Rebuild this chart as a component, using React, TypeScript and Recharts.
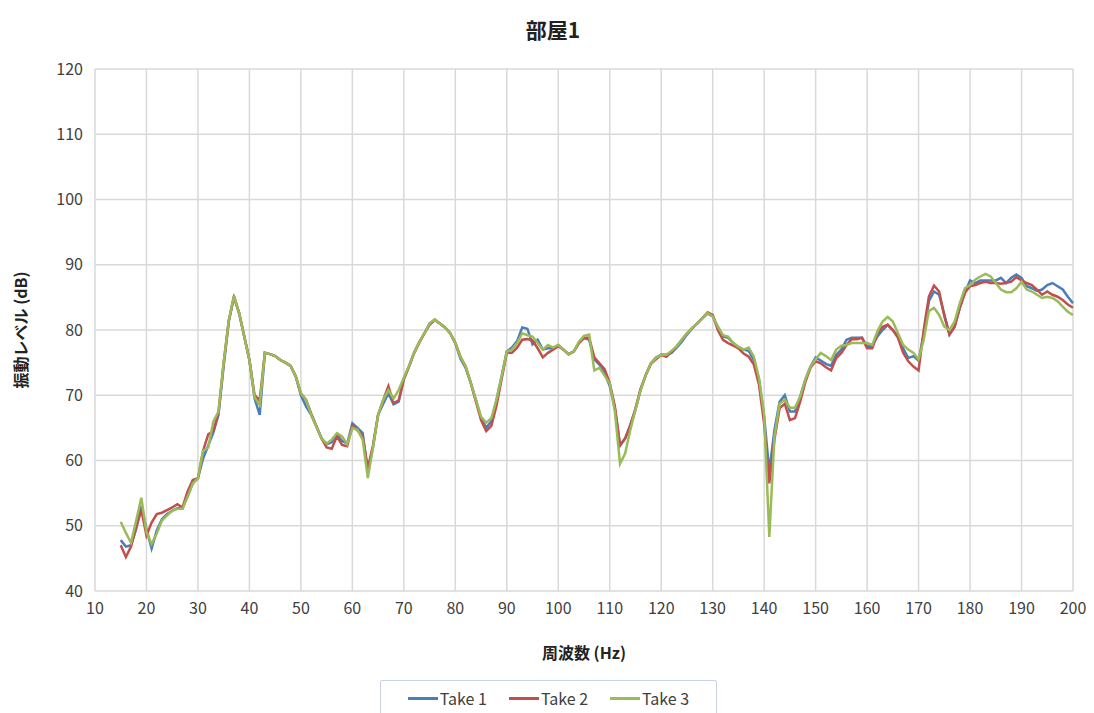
import { LineChart, Line, XAxis, YAxis, CartesianGrid } from "recharts"

const freqs = [
  15, 16, 17, 18, 19, 20, 21, 22, 23, 24, 25, 26, 27, 28, 29, 30, 31, 32, 33, 34,
  35, 36, 37, 38, 39, 40, 41, 42, 43, 44, 45, 46, 47, 48, 49, 50, 51, 52, 53, 54,
  55, 56, 57, 58, 59, 60, 61, 62, 63, 64, 65, 66, 67, 68, 69, 70, 71, 72, 73, 74,
  75, 76, 77, 78, 79, 80, 81, 82, 83, 84, 85, 86, 87, 88, 89, 90, 91, 92, 93, 94,
  95, 96, 97, 98, 99, 100, 101, 102, 103, 104, 105, 106, 107, 108, 109, 110, 111, 112, 113, 114,
  115, 116, 117, 118, 119, 120, 121, 122, 123, 124, 125, 126, 127, 128, 129, 130, 131, 132, 133, 134,
  135, 136, 137, 138, 139, 140, 141, 142, 143, 144, 145, 146, 147, 148, 149, 150, 151, 152, 153, 154,
  155, 156, 157, 158, 159, 160, 161, 162, 163, 164, 165, 166, 167, 168, 169, 170, 171, 172, 173, 174,
  175, 176, 177, 178, 179, 180, 181, 182, 183, 184, 185, 186, 187, 188, 189, 190, 191, 192, 193, 194,
  195, 196, 197, 198, 199, 200,
]

const take1 = [
  47.8, 46.8, 47.0, 49.5, 53.0, 49.5, 46.5, 49.3, 51.0, 51.8, 52.3, 52.7, 52.7, 54.5, 56.5, 57.3, 60.3, 62.3, 64.3, 67.0,
  74.5, 81.3, 85.2, 82.6, 79.0, 75.4, 69.5, 67.0, 76.5, 76.3, 76.0, 75.4, 75.0, 74.5, 72.9, 70.0, 68.3, 67.0, 65.2, 63.4,
  62.5, 62.8, 64.0, 63.0, 62.6, 65.7, 65.0, 64.2, 58.3, 62.0, 67.0, 68.7, 70.3, 68.6, 69.0, 72.5, 74.4, 76.5, 78.1, 79.5,
  81.0, 81.6, 81.0, 80.4, 79.5, 78.0, 75.6, 74.2, 71.9, 69.3, 66.5, 65.0, 66.0, 69.3, 72.9, 76.7, 77.3, 78.3, 80.4, 80.2,
  77.8, 78.5, 77.0, 77.2, 77.2, 77.7, 77.0, 76.3, 76.7, 78.0, 78.8, 78.5, 75.5, 74.7, 73.4, 71.4, 68.0, 62.3, 63.4, 65.5,
  67.8, 70.8, 73.1, 74.9, 75.8, 76.2, 76.2, 76.5, 77.3, 78.2, 79.3, 80.2, 81.0, 81.8, 82.5, 82.1, 80.5, 79.0, 78.8, 78.0,
  77.4, 77.0, 76.8, 75.4, 72.4, 66.7, 58.3, 64.7, 69.0, 70.0, 67.5, 67.5, 69.8, 72.4, 74.4, 75.8, 75.3, 74.8, 74.5, 76.2,
  77.0, 78.5, 78.8, 78.8, 78.8, 77.5, 77.5, 79.0, 80.0, 80.8, 80.0, 79.0, 77.2, 75.7, 76.0, 75.3, 79.4, 84.4, 85.9, 85.4,
  82.4, 79.3, 80.5, 83.4, 85.7, 87.6, 87.2, 87.6, 87.6, 87.6, 87.6, 88.0, 87.2, 88.0, 88.5, 88.0, 86.7, 86.4, 86.0, 86.2,
  86.9, 87.2, 86.7, 86.2, 85.1, 84.1,
]

const take2 = [
  47.0, 45.2, 46.8, 49.8, 52.4, 48.5, 50.5, 51.8, 52.0, 52.4, 52.8, 53.3, 52.8, 55.3, 57.0, 57.3, 61.5, 64.0, 64.5, 67.5,
  75.0, 81.5, 85.0, 82.6, 79.0, 75.4, 70.0, 69.2, 76.5, 76.3, 76.0, 75.4, 75.0, 74.5, 72.9, 70.3, 69.3, 67.2, 65.3, 63.4,
  62.0, 61.8, 63.7, 62.4, 62.2, 65.3, 64.6, 63.7, 58.8, 62.3, 67.0, 69.3, 71.4, 68.8, 69.2, 72.5, 74.4, 76.5, 78.1, 79.5,
  80.8, 81.5, 81.0, 80.4, 79.5, 78.0, 75.9, 74.4, 71.9, 69.0, 66.2, 64.5, 65.3, 68.4, 72.5, 76.5, 76.5, 77.3, 78.5, 78.6,
  78.4, 77.2, 75.8, 76.5, 77.0, 77.5, 77.0, 76.3, 76.7, 78.0, 78.8, 78.8, 75.8, 74.9, 74.0, 71.9, 68.3, 62.3, 63.4, 65.3,
  68.0, 71.0, 73.1, 74.8, 75.5, 76.2, 75.9, 76.7, 77.5, 78.5, 79.5, 80.3, 81.0, 81.8, 82.7, 82.3, 80.0, 78.5, 78.0, 77.6,
  77.2, 76.4, 75.9, 74.7, 71.6, 65.6, 56.5, 63.2, 68.0, 68.7, 66.2, 66.5, 69.0, 72.0, 74.2, 75.2, 74.9, 74.3, 73.8, 75.7,
  76.5, 77.7, 78.6, 78.6, 78.8, 77.2, 77.2, 79.5, 80.5, 80.8, 80.0, 78.8, 76.5, 75.2, 74.4, 73.8, 80.0, 85.1, 86.8, 85.9,
  82.1, 79.3, 80.5, 83.4, 85.7, 86.7, 86.9, 87.2, 87.4, 87.2, 87.2, 87.1, 87.2, 87.4, 88.1, 87.6, 87.2, 86.9, 86.2, 85.4,
  85.9, 85.4, 85.1, 84.6, 83.9, 83.4,
]

const take3 = [
  50.6, 48.9, 47.4, 50.8, 54.3, 49.0, 47.2, 48.8, 50.8, 51.6, 52.3, 52.6, 52.6, 54.5, 56.5, 57.3, 61.5, 62.0, 66.0, 67.5,
  75.0, 81.5, 85.2, 82.6, 79.0, 75.4, 69.7, 68.5, 76.5, 76.3, 76.0, 75.4, 75.0, 74.5, 72.9, 70.3, 69.3, 67.0, 65.2, 63.4,
  62.6, 63.2, 64.2, 63.7, 62.5, 65.0, 64.7, 63.2, 57.3, 62.0, 67.0, 69.3, 70.8, 69.5, 70.8, 72.7, 74.5, 76.5, 78.1, 79.5,
  81.0, 81.6, 81.0, 80.4, 79.5, 78.0, 75.9, 74.4, 71.9, 69.3, 66.7, 65.8, 66.5, 69.3, 72.9, 76.7, 77.0, 78.0, 79.5, 79.2,
  79.0, 78.0, 77.0, 77.7, 77.3, 77.7, 77.0, 76.3, 76.7, 78.2, 79.1, 79.3, 73.8, 74.2, 73.0, 71.8, 67.5, 59.5, 61.1, 64.7,
  67.8, 70.8, 73.1, 74.9, 75.7, 76.2, 76.2, 76.8, 77.5, 78.5, 79.5, 80.3, 81.0, 81.8, 82.6, 82.1, 80.5, 79.2, 79.0, 78.0,
  77.4, 77.0, 77.3, 75.9, 72.6, 67.0, 48.3, 63.7, 68.7, 69.3, 68.1, 68.1, 69.8, 72.4, 74.4, 75.5, 76.5, 76.0, 75.4, 77.0,
  77.6, 77.7, 78.0, 78.0, 78.0, 78.0, 77.7, 79.8, 81.3, 82.0, 81.3, 79.5, 77.7, 77.0, 76.5, 75.5, 78.5, 82.9, 83.4, 82.3,
  80.5, 80.0, 81.3, 84.1, 86.4, 86.9, 87.7, 88.2, 88.6, 88.2, 87.2, 86.2, 85.8, 85.8, 86.4, 87.4, 86.2, 85.9, 85.4, 84.9,
  85.1, 84.9, 84.4, 83.6, 82.8, 82.3,
]

const xTicks = [10, 20, 30, 40, 50, 60, 70, 80, 90, 100, 110, 120, 130, 140, 150, 160, 170, 180, 190, 200]
const yTicks = [40, 50, 60, 70, 80, 90, 100, 110, 120]

const seriesInfo = [
  { key: "take1", name: "Take 1", color: "#4a7ebb" },
  { key: "take2", name: "Take 2", color: "#c0504d" },
  { key: "take3", name: "Take 3", color: "#9bbb59" },
]

const data = freqs.map((f, i) => ({ f, take1: take1[i], take2: take2[i], take3: take3[i] }))

const font = "'Noto Sans CJK JP', 'Noto Sans', sans-serif"

function LegendBox() {
  return (
    <div
      style={{
        position: "absolute",
        left: 380,
        top: 680,
        display: "flex",
        justifyContent: "center",
        alignItems: "center",
        gap: 22,
        width: 337,
        height: 40,
        border: "1px solid #c8d2e4",
        borderRadius: 2,
        background: "#fff",
        fontFamily: font,
        fontSize: 16,
        color: "#404040",
        boxSizing: "border-box",
        paddingBottom: 4,
      }}
    >
      {seriesInfo.map((s) => (
        <div key={s.key} style={{ display: "flex", alignItems: "center" }}>
          <span style={{ display: "inline-block", width: 30, height: 3, background: s.color, marginRight: 2 }} />
          <span>{s.name}</span>
        </div>
      ))}
    </div>
  )
}

export default function App() {
  return (
    <div style={{ position: "absolute", left: 0, top: 0, width: 1094, height: 713, background: "#fff", overflow: "hidden" }}>
      <div
        style={{
          position: "absolute",
          left: 0,
          width: 1094,
          top: 14,
          textAlign: "center",
          fontFamily: font,
          fontWeight: "bold",
          fontSize: 21,
          color: "#222",
          paddingLeft: 6,
        }}
      >
        部屋1
      </div>
      <LineChart
        width={1094}
        height={713}
        data={data}
        margin={{ top: 69, right: 21, bottom: 92, left: 35 }}
      >
        <CartesianGrid stroke="#d9d9d9" strokeWidth={1.5} />
        <XAxis
          dataKey="f"
          type="number"
          domain={[10, 200]}
          ticks={xTicks}
          interval={0}
          height={30}
          axisLine={false}
          tickLine={false}
          tick={{ fill: "#404040", fontSize: 16, fontFamily: font }}
          tickMargin={6}
          label={{
            value: "周波数 (Hz)",
            position: "insideBottom",
            offset: -38,
            style: { fill: "#222", fontSize: 16, fontWeight: "bold", fontFamily: font },
          }}
        />
        <YAxis
          type="number"
          domain={[40, 120]}
          ticks={yTicks}
          interval={0}
          width={60}
          axisLine={false}
          tickLine={false}
          tick={{ fill: "#404040", fontSize: 16, fontFamily: font }}
          tickMargin={6}
          label={{
            value: "振動レベル (dB)",
            angle: -90,
            position: "insideLeft",
            offset: -14,
            style: { fill: "#222", fontSize: 16, fontWeight: "bold", fontFamily: font, textAnchor: "middle" },
          }}
        />
        {seriesInfo.map((s) => (
          <Line
            key={s.key}
            type="linear"
            dataKey={s.key}
            name={s.name}
            stroke={s.color}
            strokeWidth={2.5}
            dot={false}
            isAnimationActive={false}
          />
        ))}
      </LineChart>
      <LegendBox />
    </div>
  )
}
